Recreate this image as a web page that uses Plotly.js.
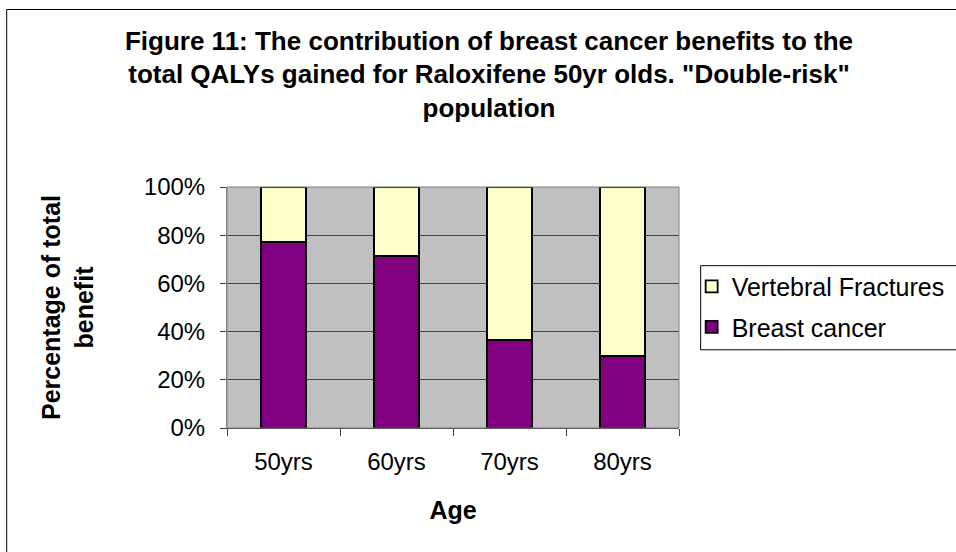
<!DOCTYPE html>
<html>
<head>
<meta charset="utf-8">
<script src="https://cdn.plot.ly/plotly-3.0.1.min.js"></script>
<style>
  html, body { margin: 0; padding: 0; background: #ffffff; }
  #chart { width: 956px; height: 552px; }
</style>
</head>
<body>
<div id="chart"></div>
<script>
// Data (percentage of total benefit)
const ages = ["50yrs", "60yrs", "70yrs", "80yrs"];
const breastCancer = [77.3, 71.5, 36.6, 29.9];
const vertebralFractures = [22.7, 28.5, 63.4, 70.1];
const yTickVals = [0, 20, 40, 60, 80, 100];
const yTickText = ["0%", "20%", "40%", "60%", "80%", "100%"];

const FONT = "Arial, 'Liberation Sans', Helvetica, sans-serif";

const traces = [
  {
    type: "bar",
    name: "Breast cancer",
    x: ages,
    y: breastCancer,
    legendgroup: "bc",
    legendrank: 2,
    marker: { color: "#800080", line: { color: "#000000", width: 1.8 } },
    hoverinfo: "x+y+name"
  },
  {
    type: "bar",
    name: "Vertebral Fractures",
    x: ages,
    y: vertebralFractures,
    legendgroup: "vf",
    legendrank: 1,
    marker: { color: "#FFFFCC", line: { color: "#000000", width: 1.8 } },
    hoverinfo: "x+y+name"
  }
];

const layout = {
  width: 956,
  height: 552,
  margin: { l: 227, r: 277, t: 187, b: 124, autoexpand: false },
  paper_bgcolor: "#ffffff",
  plot_bgcolor: "#C0C0C0",
  barmode: "stack",
  bargap: 0.6,
  font: { family: FONT, color: "#000000", size: 24 },
  title: {
    text: "Figure 11: The contribution of breast cancer benefits to the<br>total QALYs gained for Raloxifene 50yr olds. \"Double-risk\"<br>population",
    font: { family: FONT, size: 26, color: "#000000", weight: "bold" },
    x: 0.5115,
    xanchor: "center",
    xref: "container",
    y: 0.91,
    yanchor: "top",
    yref: "container"
  },
  xaxis: {
    type: "category",
    tickson: "boundaries",
    ticks: "outside",
    ticklen: 7,
    tickcolor: "#404040",
    tickwidth: 1,
    ticklabelstandoff: 12,
    showline: true,
    linecolor: "#404040",
    linewidth: 1,
    mirror: false,
    showgrid: false,
    tickfont: { family: FONT, size: 24, color: "#000000" },
    title: {
      text: "Age",
      font: { family: FONT, size: 25, color: "#000000", weight: "bold" },
      standoff: 27
    },
    fixedrange: true
  },
  yaxis: {
    range: [0, 100],
    tickvals: yTickVals,
    ticktext: yTickText,
    ticks: "outside",
    ticklen: 6,
    tickcolor: "#404040",
    tickwidth: 1,
    ticklabelstandoff: 10,
    showline: true,
    linecolor: "#808080",
    linewidth: 1,
    showgrid: true,
    gridcolor: "#404040",
    gridwidth: 1,
    zeroline: false,
    tickfont: { family: FONT, size: 24, color: "#000000" },
    title: {
      text: "Percentage of total<br>benefit",
      font: { family: FONT, size: 25, color: "#000000", weight: "bold" },
      standoff: 43
    },
    fixedrange: true
  },
  showlegend: true,
  legend: {
    x: 1.028,
    xanchor: "left",
    y: 0.682,
    yanchor: "top",
    traceorder: "grouped",
    tracegroupgap: 5,
    bgcolor: "rgba(0,0,0,0)",
    borderwidth: 0,
    itemwidth: 30,
    font: { family: FONT, size: 25, color: "#000000" }
  },
  shapes: [
    {
      type: "rect",
      xref: "paper",
      yref: "paper",
      x0: -0.4874,
      x1: 3,
      y0: -2,
      y1: 1.7366,
      line: { color: "#000000", width: 1 },
      fillcolor: "rgba(0,0,0,0)",
      layer: "below"
    },
    {
      type: "rect",
      xref: "paper",
      yref: "paper",
      x0: 0, x1: 1, y0: 0, y1: 1,
      line: { color: "#808080", width: 1 },
      fillcolor: "rgba(0,0,0,0)",
      layer: "above"
    },
    {
      // legend frame
      type: "rect",
      xref: "paper",
      yref: "paper",
      x0: 1.0479, x1: 1.65,
      y0: 0.3245, y1: 0.6735,
      line: { color: "#000000", width: 1 },
      fillcolor: "#ffffff",
      layer: "below"
    }
  ]
};

Plotly.newPlot("chart", traces, layout, { displayModeBar: false, staticPlot: false, responsive: false });
</script>
</body>
</html>
